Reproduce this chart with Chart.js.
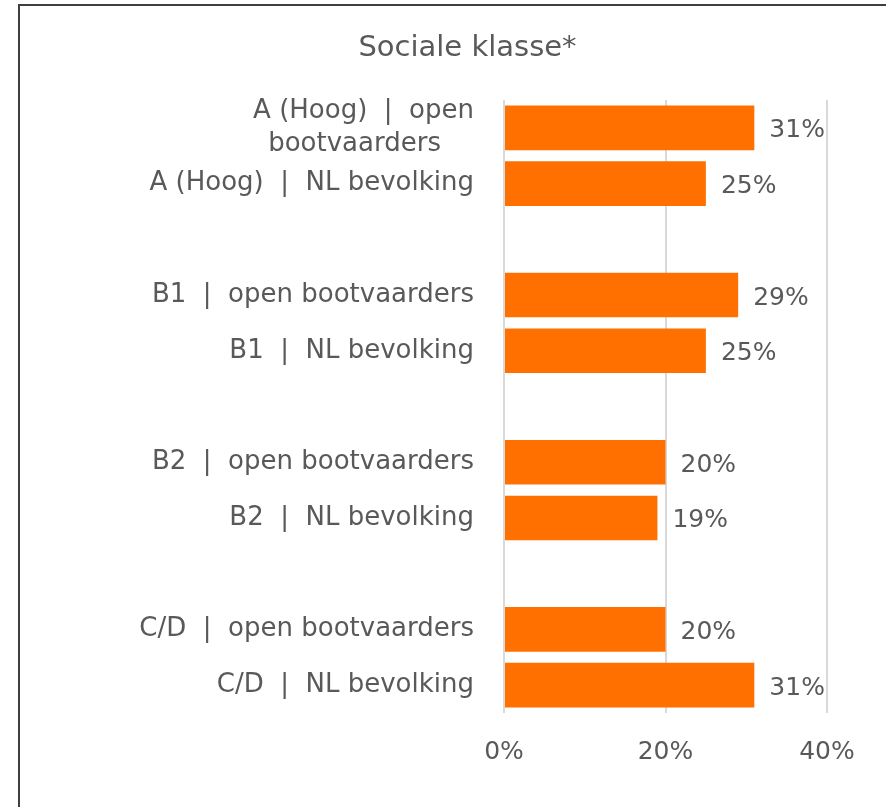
<!DOCTYPE html>
<html>
<head>
<meta charset="utf-8">
<script src="https://cdn.jsdelivr.net/npm/chart.js@4/dist/chart.umd.min.js"></script>
<style>
  html, body { margin: 0; padding: 0; overflow: hidden; background: #fff; }
  #frame {
    position: absolute; left: 18px; top: 4px; width: 895px; height: 803px;
    border-left: 2px solid #3f3f3f; border-top: 2px solid #3f3f3f;
  }
  #wrap { position: absolute; left: 0; top: 0; width: 895px; height: 803px; }
</style>
</head>
<body>
<div id="frame"><div id="wrap"><canvas id="chart"></canvas></div></div>
<script>
// categories (empty strings are the gaps between groups)
const categories = [
    ["A (Hoog)  |  open", "bootvaarders    "],
    "A (Hoog)  |  NL bevolking",
    "",
    "B1  |  open bootvaarders",
    "B1  |  NL bevolking",
    "",
    "B2  |  open bootvaarders",
    "B2  |  NL bevolking",
    "",
    "C/D  |  open bootvaarders",
    "C/D  |  NL bevolking",
];
const shares = [31, 25, null, 29, 25, null, 20, 19, null, 20, 31];
const xTicks = [0, 20, 40];
const titleText = "Sociale klasse*";

const textColor = "#595959";
const fontFamily = "'DejaVu Sans', sans-serif";

// Title centred on the whole frame, and the value next to each bar
const extraText = {
    id: "extraText",
    afterDatasetsDraw(chart) {
        const ctx = chart.ctx;
        const meta = chart.getDatasetMeta(0);
        ctx.save();
        ctx.fillStyle = textColor;
        ctx.textBaseline = "middle";

        ctx.font = "29px " + fontFamily;
        ctx.textAlign = "center";
        ctx.fillText(titleText, chart.width / 2, 42);

        ctx.font = "25px " + fontFamily;
        ctx.textAlign = "left";
        meta.data.forEach((bar, i) => {
            const v = shares[i];
            if (v === null) return;
            ctx.fillText(v + "%", bar.x + 15, bar.y + 3);
        });
        ctx.restore();
    }
};

new Chart("chart", {
    type: "bar",
    data: {
        labels: categories,
        datasets: [{
            data: shares,
            backgroundColor: "#ff7000",
            borderWidth: 0,
            barPercentage: 0.8,
            categoryPercentage: 1.0,
        }],
    },
    options: {
        indexAxis: "y",
        responsive: true,
        maintainAspectRatio: false,
        animation: false,
        layout: { padding: { top: 94, right: 88, bottom: 18, left: 0 } },
        plugins: {
            legend: { display: false },
            tooltip: { enabled: false },
            title: { display: false },
        },
        scales: {
            x: {
                min: 0,
                max: 40,
                afterBuildTicks(scale) {
                    scale.ticks = xTicks.map(v => ({ value: v }));
                },
                grid: { color: "#d9d9d9", lineWidth: 2, drawTicks: false },
                border: { display: false },
                ticks: {
                    color: textColor,
                    font: { family: fontFamily, size: 25 },
                    padding: 24,
                    callback: v => v + "%",
                },
            },
            y: {
                grid: { display: false },
                border: { display: false },
                afterFit(scale) { scale.width = 484; },
                ticks: {
                    color: textColor,
                    font: { family: fontFamily, size: 26, lineHeight: 1.27 },
                    padding: 22,
                    autoSkip: false,
                },
            },
        },
    },
    plugins: [extraText],
});
</script>
</body>
</html>
